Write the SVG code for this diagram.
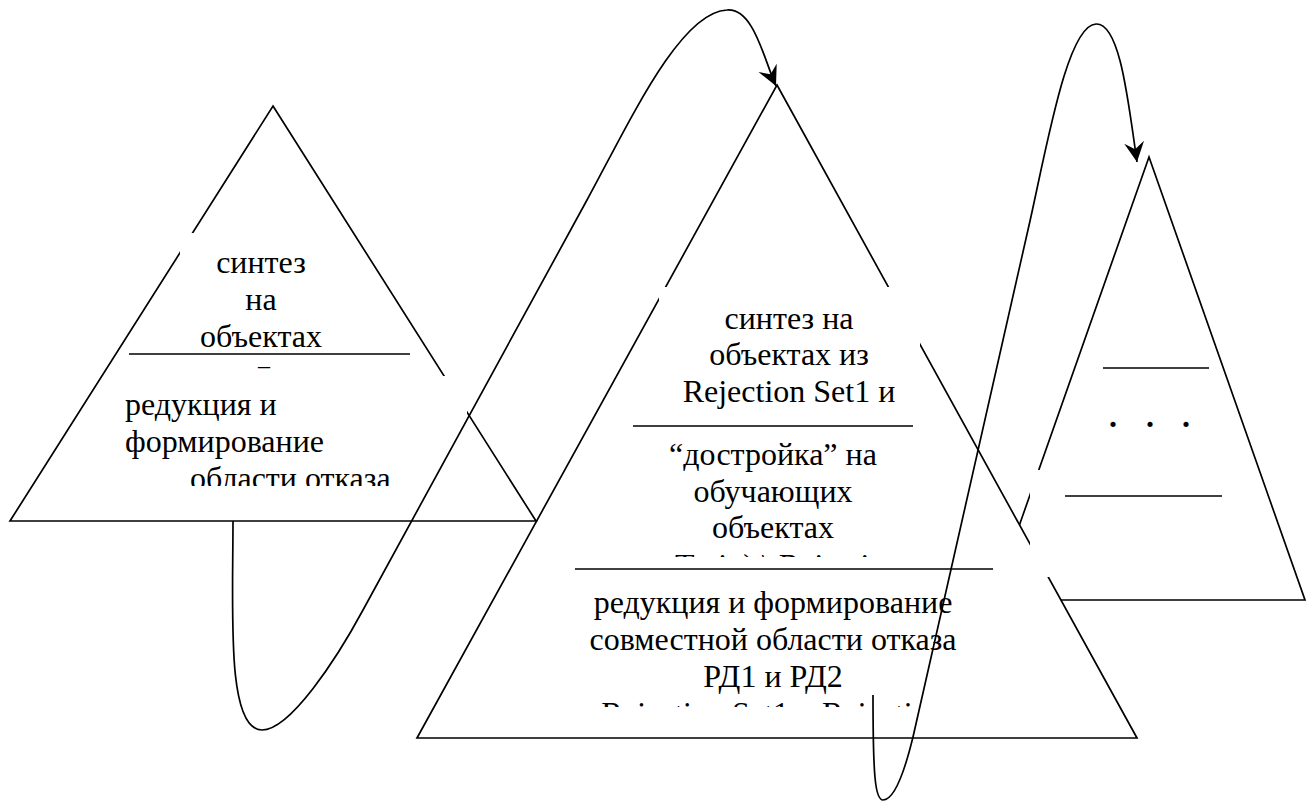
<svg xmlns="http://www.w3.org/2000/svg" width="1307" height="801" viewBox="0 0 1307 801">
  <style>
    .edge { fill: none; stroke: #000; stroke-width: 1.7; stroke-linejoin: miter; }
    .rule { stroke: #000; stroke-width: 1.7; }
    .pane { fill: #fff; stroke: none; }
    text { font-family: 'Liberation Serif', 'Times New Roman', serif; font-size: 32px; fill: #000; }
    .mid { text-anchor: middle; }
    .link { fill: none; stroke: #000; stroke-width: 1.7; marker-end: url(#dart); }
  </style>
  <defs>
    <marker id="dart" viewBox="-21 -11 23 22" refX="0" refY="0" markerWidth="23" markerHeight="22" markerUnits="userSpaceOnUse" orient="auto">
      <path d="M0,0 L-20,-10 L-13,0 L-20,10 Z" fill="#000"/>
    </marker>
    <!-- everything outside the middle pyramid -->
    <clipPath id="outsideMiddle">
      <path clip-rule="evenodd" d="M0,0 H1307 V801 H0 Z M777,85 L1137,738 L417,738 Z"/>
    </clipPath>
    <clipPath id="clipLA"><rect x="180" y="233" width="166" height="136"/></clipPath>
    <clipPath id="clipLB"><rect x="112" y="376" width="355" height="110"/></clipPath>
    <clipPath id="clipMA"><rect x="659" y="287" width="261" height="128"/></clipPath>
    <clipPath id="clipMB"><rect x="640" y="430" width="280" height="127"/></clipPath>
    <clipPath id="clipMC"><rect x="580" y="572" width="385" height="135"/></clipPath>
  </defs>

  <!-- left pyramid -->
  <g id="pyramid-left">
    <polygon class="edge" points="273,106 536,521 10,521"/>
    <rect class="pane" x="180" y="233" width="166" height="136"/>
    <g clip-path="url(#clipLA)">
      <text class="mid" x="261" y="273">синтез</text>
      <text class="mid" x="261" y="310">на</text>
      <text class="mid" x="261" y="347">объектах</text>
    </g>
    <text class="mid" x="264" y="373" style="font-size:24px">–</text>
    <rect class="pane" x="112" y="376" width="355" height="110"/>
    <g clip-path="url(#clipLB)">
      <text x="125" y="415">редукция и</text>
      <text x="125" y="452">формирование</text>
      <text x="190" y="489">области отказа</text>
    </g>
    <line class="rule" x1="129" y1="354" x2="410" y2="354"/>
  </g>

  <!-- middle pyramid -->
  <g id="pyramid-middle">
    <polygon class="edge" points="777,85 1137,738 417,738"/>
    <rect class="pane" x="659" y="287" width="261" height="128"/>
    <g clip-path="url(#clipMA)">
      <text class="mid" x="789" y="329">синтез на</text>
      <text class="mid" x="789" y="365">объектах из</text>
      <text class="mid" x="789" y="402">Rejection Set1 и</text>
    </g>
    <rect class="pane" x="640" y="430" width="280" height="127"/>
    <g clip-path="url(#clipMB)">
      <text class="mid" x="773" y="465">“достройка” на</text>
      <text class="mid" x="773" y="502">обучающих</text>
      <text class="mid" x="773" y="538">объектах</text>
      <text x="675" y="576">Train) \ Rejection</text>
    </g>
    <rect class="pane" x="580" y="572" width="385" height="135"/>
    <g clip-path="url(#clipMC)">
      <text class="mid" x="773" y="613">редукция и формирование</text>
      <text class="mid" x="773" y="650">совместной области отказа</text>
      <text class="mid" x="773" y="687">РД1 и РД2</text>
      <text class="mid" x="773" y="724">Rejection Set1 и Rejection</text>
    </g>
    <line class="rule" x1="633" y1="426" x2="913" y2="426"/>
    <line class="rule" x1="575" y1="569" x2="993" y2="569"/>
  </g>

  <!-- right pyramid -->
  <g id="pyramid-right">
    <polygon class="edge" points="1149,157 1305,600 993,600" clip-path="url(#outsideMiddle)"/>
    <rect class="pane" x="1030" y="470" width="210" height="107"/>
    <line class="rule" x1="1103" y1="368" x2="1209" y2="368"/>
    <text class="mid" x="1113 1150 1186" y="427" style="font-weight:bold">...</text>
    <line class="rule" x1="1065" y1="496" x2="1222" y2="496"/>
  </g>

  <!-- connectors -->
  <g id="connectors">
    <path class="link" d="M233,521 C233,610 226,730 262,730 C290,730 336,660 363,610 L587,200 C630,121 680,12 727,10 C754,8 764,60 776,86"/>
    <path class="link" d="M873,695 C873,775 875,800 883,800 C893,800 903,778 913,737 L1030,221 C1048,140 1068,25 1096,24 C1120,23 1128,100 1137,162"/>
  </g>
</svg>
